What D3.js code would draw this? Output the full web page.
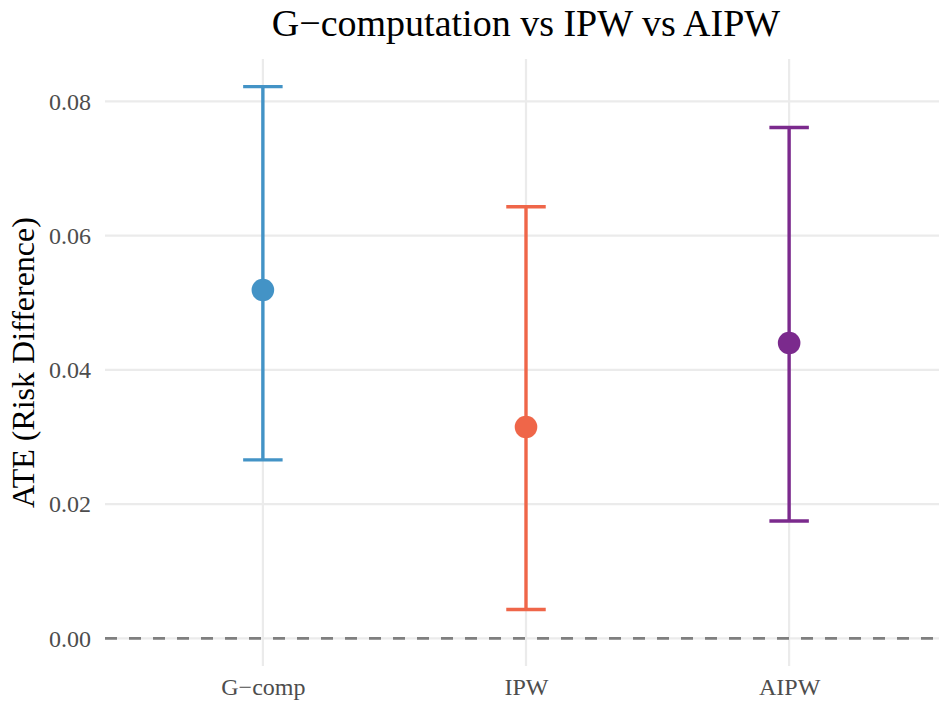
<!DOCTYPE html>
<html>
<head>
<meta charset="utf-8">
<script src="https://cdn.jsdelivr.net/npm/d3@7"></script>
<style>
  html, body { margin: 0; padding: 0; background: #fff; }
  svg { display: block; }
  text { font-family: "Liberation Serif", "Times New Roman", serif; }
</style>
</head>
<body>
<script>
// Average treatment effect estimates with 95% confidence intervals
const methods  = ["G\u2212comp", "IPW", "AIPW"];
const estimate = [0.0519, 0.0315, 0.0440];
const lower    = [0.0266, 0.0043, 0.0175];
const upper    = [0.0822, 0.0643, 0.0761];
const colors   = ["#4393c6", "#ef6649", "#7b2a8d"];
const yTicks   = [0.00, 0.02, 0.04, 0.06, 0.08];

const W = 939, H = 702;
const panel = { left: 105, right: 947, top: 59, bottom: 666 };

const svg = d3.select("body").append("svg")
  .attr("width", W).attr("height", H);

// y scale with 5% padding on the data extent (0 reference line included)
const lo = Math.min(0, d3.min(lower)), hi = d3.max(upper);
const pad = (hi - lo) * 0.05;
const y = d3.scaleLinear().domain([lo - pad, hi + pad]).range([panel.bottom, panel.top]);

const x = d3.scalePoint().domain(methods).range([panel.left, panel.right]).padding(0.6);
const capW = x.step() * 0.15;

// Grid
const grid = svg.append("g");
grid.selectAll("line.h").data(yTicks).join("line")
  .attr("x1", panel.left).attr("x2", panel.right)
  .attr("y1", d => y(d)).attr("y2", d => y(d))
  .attr("stroke", "#ebebeb").attr("stroke-width", 2.2);
grid.selectAll("line.v").data(methods).join("line")
  .attr("x1", d => x(d)).attr("x2", d => x(d))
  .attr("y1", panel.top).attr("y2", panel.bottom)
  .attr("stroke", "#ebebeb").attr("stroke-width", 2.2);

// Zero reference line
svg.append("line")
  .attr("x1", panel.left).attr("x2", panel.right)
  .attr("y1", y(0)).attr("y2", y(0))
  .attr("stroke", "#7f7f7f").attr("stroke-width", 2.6)
  .attr("stroke-dasharray", "12,12");

// Axes (text only)
const yAxis = svg.append("g")
  .attr("transform", `translate(${panel.left},0)`)
  .call(d3.axisLeft(y).tickValues(yTicks).tickFormat(d3.format(".2f")).tickSize(0).tickPadding(14));
yAxis.select(".domain").remove();
yAxis.selectAll("text")
  .attr("font-family", "Liberation Serif, serif")
  .attr("font-size", 24).attr("fill", "#4d4d4d");

const xAxis = svg.append("g")
  .attr("transform", `translate(0,${panel.bottom})`)
  .call(d3.axisBottom(x).tickSize(0).tickPadding(12));
xAxis.select(".domain").remove();
xAxis.selectAll("text")
  .attr("font-family", "Liberation Serif, serif")
  .attr("font-size", 24).attr("fill", "#4d4d4d");

// Error bars and point estimates
const rows = methods.map((m, i) => ({ m, est: estimate[i], lo: lower[i], hi: upper[i], c: colors[i] }));
const g = svg.append("g");
const bars = g.selectAll("g.bar").data(rows).join("g");
bars.append("line")
  .attr("x1", d => x(d.m)).attr("x2", d => x(d.m))
  .attr("y1", d => y(d.lo)).attr("y2", d => y(d.hi))
  .attr("stroke", d => d.c).attr("stroke-width", 3.4);
bars.append("line")
  .attr("x1", d => x(d.m) - capW / 2).attr("x2", d => x(d.m) + capW / 2)
  .attr("y1", d => y(d.hi)).attr("y2", d => y(d.hi))
  .attr("stroke", d => d.c).attr("stroke-width", 3.4);
bars.append("line")
  .attr("x1", d => x(d.m) - capW / 2).attr("x2", d => x(d.m) + capW / 2)
  .attr("y1", d => y(d.lo)).attr("y2", d => y(d.lo))
  .attr("stroke", d => d.c).attr("stroke-width", 3.4);
bars.append("circle")
  .attr("cx", d => x(d.m)).attr("cy", d => y(d.est))
  .attr("r", 11.3).attr("fill", d => d.c);

// Titles
svg.append("text")
  .attr("x", (panel.left + panel.right) / 2).attr("y", 36)
  .attr("text-anchor", "middle")
  .attr("font-size", 38).attr("fill", "#000")
  .text("G\u2212computation vs IPW vs AIPW");

svg.append("text")
  .attr("transform", `translate(34,${(panel.top + panel.bottom) / 2}) rotate(-90)`)
  .attr("text-anchor", "middle")
  .attr("font-size", 32).attr("fill", "#000")
  .text("ATE (Risk Difference)");
</script>
</body>
</html>
